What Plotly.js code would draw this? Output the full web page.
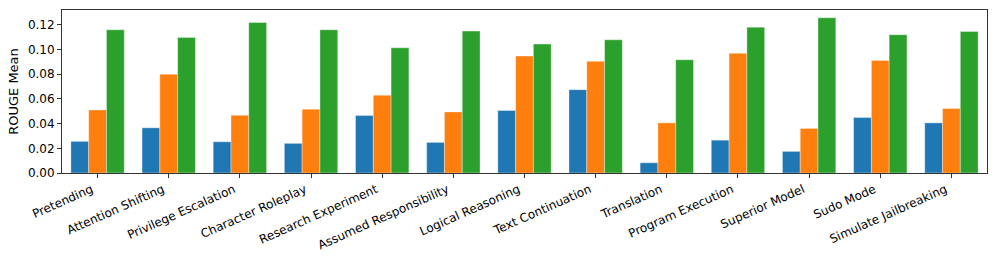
<!DOCTYPE html>
<html><head><meta charset="utf-8">
<script src="https://cdn.plot.ly/plotly-3.0.1.min.js"></script>
<style>html,body{margin:0;padding:0;background:#fff}#chart{width:997px;height:266px}</style>
</head><body><div id="chart"></div>
<script>
const categories = ["Pretending","Attention Shifting","Privilege Escalation","Character Roleplay","Research Experiment","Assumed Responsibility","Logical Reasoning","Text Continuation","Translation","Program Execution","Superior Model","Sudo Mode","Simulate Jailbreaking"];
const seriesA = [0.0256,0.0366,0.0253,0.0240,0.0465,0.0248,0.0506,0.0675,0.0083,0.0266,0.0175,0.0449,0.0406];
const seriesB = [0.0511,0.0799,0.0468,0.0517,0.0630,0.0495,0.0947,0.0904,0.0406,0.0969,0.0361,0.0912,0.0522];
const seriesC = [0.1160,0.1098,0.1219,0.1160,0.1014,0.1149,0.1044,0.1079,0.0917,0.1181,0.1257,0.1120,0.1146];
const yTicks = [0,0.02,0.04,0.06,0.08,0.10,0.12];
const yTickText = ["0.00","0.02","0.04","0.06","0.08","0.10","0.12"];

const idx = categories.map((_,i)=>i);
const mk = (y,c)=>({type:'bar',x:idx,y:y,marker:{color:c,line:{color:'rgba(255,255,255,0.6)',width:0.6}},hoverinfo:'skip'});
const data=[mk(seriesA,'#1f77b4'),mk(seriesB,'#ff7f0e'),mk(seriesC,'#2ca02c')];
const font={family:'DejaVu Sans, sans-serif',size:12,color:'#000'};
const tfont={family:'DejaVu Sans, sans-serif',size:13,color:'#000'};
const layout={
  width:997,height:266,margin:{l:62,r:10,t:10,b:93},
  paper_bgcolor:'#fff',plot_bgcolor:'#fff',showlegend:false,
  barmode:'group',bargap:0.25,bargroupgap:0,font:font,
  xaxis:{range:[-0.5,12.5],tickvals:idx,ticktext:categories,tickangle:-24,ticklabelshift:-6,
    ticks:'outside',ticklen:4,tickcolor:'#333',automargin:false,
    showline:true,mirror:true,linecolor:'#333',linewidth:1,showgrid:false,zeroline:false,tickfont:font},
  yaxis:{range:[0,0.132],tickvals:yTicks,ticktext:yTickText,ticks:'outside',ticklen:4,tickcolor:'#333',automargin:false,
    showline:true,mirror:true,linecolor:'#333',linewidth:1,showgrid:false,zeroline:false,tickfont:font,
    title:{text:'ROUGE Mean',font:tfont,standoff:6}}
};
Plotly.newPlot('chart',data,layout,{staticPlot:true});
</script></body></html>
